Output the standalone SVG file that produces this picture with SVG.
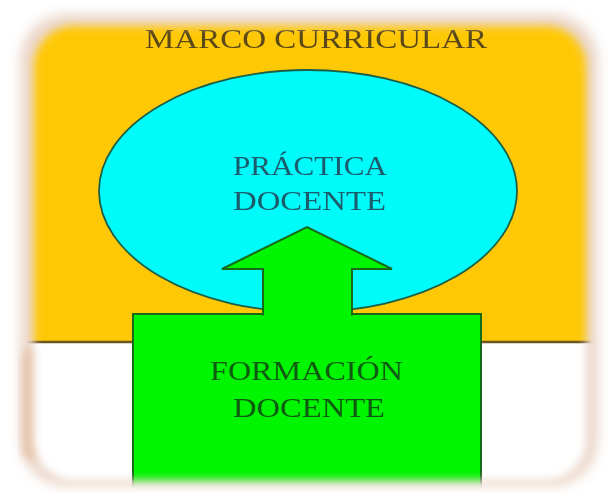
<svg xmlns="http://www.w3.org/2000/svg" width="608" height="493" viewBox="0 0 608 493">
  <defs>
    <filter id="blur6" x="-20%" y="-20%" width="140%" height="140%">
      <feGaussianBlur stdDeviation="6"/>
    </filter>
    <filter id="blur4" x="-20%" y="-20%" width="140%" height="140%">
      <feGaussianBlur stdDeviation="4"/>
    </filter>
    <mask id="feather" maskUnits="userSpaceOnUse" x="0" y="0" width="608" height="493">
      <rect x="34" y="26" width="552" height="454" rx="40" fill="#fff" filter="url(#blur4)"/>
    </mask>
    <style>
      .lbl { font-family: "Liberation Serif", "Times New Roman", serif; font-size: 28px; text-anchor: middle; }
      .title { fill: #5a4818; }
      .prac { fill: #1a5c6c; }
      .form { fill: #0d5a10; }
      .shape { stroke-width: 2; stroke-linejoin: miter; }
    </style>
  </defs>

  <rect x="0" y="0" width="608" height="493" fill="#ffffff"/>
  <!-- soft halo -->
  <rect x="20" y="14" width="578" height="472" rx="46" fill="#dcb7a0" opacity="0.55" filter="url(#blur6)"/>
  <rect x="22" y="348" width="20" height="112" rx="10" fill="#e2b898" opacity="0.6" filter="url(#blur4)"/>

  <g mask="url(#feather)">
    <g id="marco">
      <rect x="0" y="0" width="608" height="342" fill="#ffc805"/>
      <rect x="0" y="342" width="608" height="151" fill="#ffffff"/>
      <line x1="0" y1="342" x2="608" y2="342" stroke="#6e5520" stroke-width="2.5"/>
      <text class="lbl title" x="316" y="48" textLength="342" lengthAdjust="spacingAndGlyphs">MARCO CURRICULAR</text>
    </g>

    <g id="practica">
      <ellipse cx="308" cy="191" rx="209" ry="121" fill="#00fbfb" stroke="#1d5e48" stroke-width="1.8"/>
      <text class="lbl prac" x="310" y="175" textLength="154" lengthAdjust="spacingAndGlyphs">PRÁCTICA</text>
      <text class="lbl prac" x="309.5" y="210" textLength="153" lengthAdjust="spacingAndGlyphs">DOCENTE</text>
    </g>

    <g id="formacion">
      <rect x="133" y="314" width="348" height="200" fill="#00f500" stroke="#176a17" class="shape"/>
      <text class="lbl form" x="306.5" y="380" textLength="193" lengthAdjust="spacingAndGlyphs">FORMACIÓN</text>
      <text class="lbl form" x="309" y="417" textLength="152" lengthAdjust="spacingAndGlyphs">DOCENTE</text>
    </g>

    <g id="connectors">
      <path d="M263,315.5 L263,269 L222,269 L307,227 L392,269 L352,269 L352,315.5" fill="#00f500" stroke="#176a17" class="shape"/>
    </g>
  </g>
</svg>
